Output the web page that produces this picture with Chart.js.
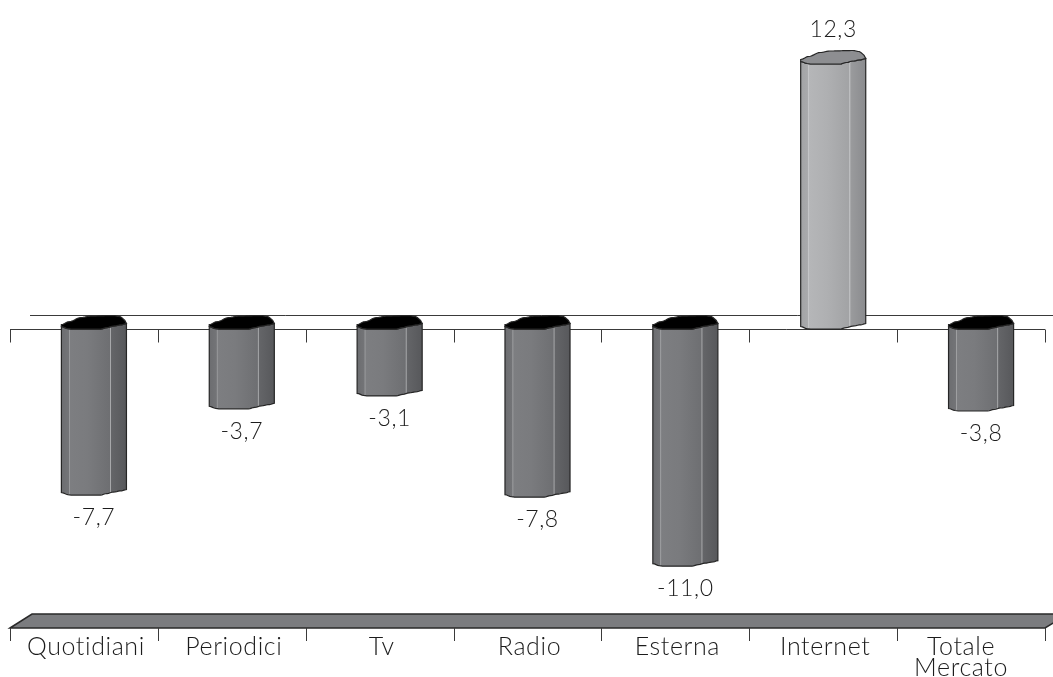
<!DOCTYPE html>
<html>
<head>
<meta charset="utf-8">
<script src="https://cdn.jsdelivr.net/npm/chart.js@4/dist/chart.umd.min.js"></script>
<style>
  html, body { margin: 0; padding: 0; background: #ffffff; }
  #wrap { width: 1053px; height: 677px; position: relative; }
</style>
</head>
<body>
<div id="wrap"><canvas id="chart"></canvas></div>
<script>
// Variazione % degli investimenti pubblicitari per mezzo
const categories = ['Quotidiani', 'Periodici', 'Tv', 'Radio', 'Esterna', 'Internet', ['Totale', 'Mercato']];
const variations = [-7.7, -3.7, -3.1, -7.8, -11.0, 12.3, -3.8];
const axisMin = -13.22;
const axisMax = 15.27;

const FONT = 'Lato, "Open Sans", "DejaVu Sans", sans-serif';
const DEPTH = 14;       // depth of the pseudo-3D floor / caps
const BAR_SHIFT = 10;   // horizontal shift of the columns inside each slot

// Profiles (u across the column width, height in px) of the wavy column outline
const frontEdge = [[0, 2.5], [0.1, 0.5], [0.15, 0], [0.6, 0], [0.7, 1.5], [0.8, 3], [0.92, 4.2], [1, 5.5]];
const backEdge  = [[0, 4.5], [0.12, 7.5], [0.3, 11.5], [0.45, 13], [0.8, 13.5], [0.9, 12.5], [0.96, 10], [1, 5.5]];

function profile(pts, u) {
  for (let i = 1; i < pts.length; i++) {
    if (u <= pts[i][0]) {
      const [u0, v0] = pts[i - 1];
      const [u1, v1] = pts[i];
      const t = (u - u0) / (u1 - u0 || 1);
      const s = (1 - Math.cos(Math.PI * t)) / 2;
      return v0 + (v1 - v0) * s;
    }
  }
  return pts[pts.length - 1][1];
}

function traceEdge(ctx, x0, w, yRef, pts, forward, first) {
  const N = 40;
  for (let k = 0; k <= N; k++) {
    const u = forward ? k / N : 1 - k / N;
    const x = x0 + u * w;
    const y = yRef - profile(pts, u);
    if (first && k === 0) ctx.moveTo(x, y); else ctx.lineTo(x, y);
  }
}

function bodyGradient(ctx, x0, w, positive) {
  const g = ctx.createLinearGradient(x0, 0, x0 + w, 0);
  const stops = positive
    ? [[0, '#a2a3a5'], [0.11, '#a9aaac'], [0.12, '#c4c5c7'], [0.135, '#b5b6b8'], [0.4, '#afb0b2'],
       [0.74, '#a2a3a5'], [0.755, '#c8c9cb'], [0.77, '#9a9b9d'], [1, '#8a8b8e']]
    : [[0, '#6c6d70'], [0.11, '#737477'], [0.12, '#a4a5a7'], [0.135, '#7d7e81'], [0.4, '#7a7b7e'],
       [0.74, '#6e6f72'], [0.755, '#a8a9ab'], [0.77, '#646568'], [1, '#57585b']];
  stops.forEach(([o, c]) => g.addColorStop(o, c));
  return g;
}

const decorPlugin = {
  id: 'decor',
  beforeDatasetsDraw(chart) {
    const { ctx, chartArea, scales } = chart;
    const x = scales.x, y = scales.y;
    const y0 = Math.round(y.getPixelForValue(0)) + 0.5;
    const n = categories.length;
    const slot = (chartArea.right - chartArea.left) / n;
    const W = chart.width;
    ctx.save();
    ctx.strokeStyle = '#3a3a3a';
    ctx.lineWidth = 1;
    // back edge of the zero plane
    ctx.beginPath();
    ctx.moveTo(chartArea.left + 20, y0 - DEPTH);
    ctx.lineTo(W, y0 - DEPTH);
    ctx.stroke();
    // front zero line with ticks
    ctx.beginPath();
    ctx.moveTo(chartArea.left, y0);
    ctx.lineTo(chartArea.right, y0);
    for (let i = 0; i <= n; i++) {
      const tx = Math.round(chartArea.left + i * slot) + 0.5;
      ctx.moveTo(tx, y0);
      ctx.lineTo(tx, y0 + 13);
    }
    ctx.stroke();

    // floor slab under the columns
    const top = chartArea.bottom, bot = chartArea.bottom + DEPTH;
    ctx.beginPath();
    ctx.moveTo(chartArea.left, bot);
    ctx.lineTo(chartArea.left + 22, top);
    ctx.lineTo(W + 5, top);
    ctx.lineTo(W + 5, top + 6);
    ctx.lineTo(chartArea.right, bot);
    ctx.closePath();
    ctx.fillStyle = '#7b7c7f';
    ctx.fill();
    ctx.strokeStyle = '#2a2a2a';
    ctx.lineWidth = 1.5;
    ctx.stroke();
    ctx.lineWidth = 1;
    ctx.strokeStyle = '#3a3a3a';
    ctx.beginPath();
    for (let i = 0; i <= n; i++) {
      const tx = Math.round(chartArea.left + i * slot) + 0.5;
      ctx.moveTo(tx, bot);
      ctx.lineTo(tx, bot + 13);
    }
    ctx.stroke();

    // category names
    ctx.fillStyle = '#1c1c1c';
    ctx.font = '300 25px ' + FONT;
    ctx.letterSpacing = '0.6px';
    ctx.textAlign = 'center';
    ctx.textBaseline = 'alphabetic';
    categories.forEach((lab, i) => {
      const cx = x.getPixelForValue(i) + (Array.isArray(lab) ? -10 : 2);
      const lines = Array.isArray(lab) ? lab : [lab];
      lines.forEach((ln, j) => ctx.fillText(ln, cx, bot + 27 + j * 21));
    });
    ctx.restore();
  },
  afterDatasetsDraw(chart) {
    const { ctx, scales } = chart;
    const y0 = scales.y.getPixelForValue(0);
    const meta = chart.getDatasetMeta(0);
    ctx.save();
    meta.data.forEach((bar, i) => {
      const v = variations[i];
      const positive = v >= 0;
      const w = bar.width;
      const x0 = bar.x - w / 2 + BAR_SHIFT;
      const yTop = positive ? bar.y : y0;
      const yBot = positive ? y0 : bar.y;

      // column body
      ctx.beginPath();
      traceEdge(ctx, x0, w, yTop, frontEdge, true, true);
      traceEdge(ctx, x0, w, yBot, frontEdge, false, false);
      ctx.closePath();
      ctx.fillStyle = bodyGradient(ctx, x0, w, positive);
      ctx.fill();
      ctx.strokeStyle = '#262626';
      ctx.lineWidth = 1.2;
      ctx.stroke();

      // cap
      ctx.beginPath();
      traceEdge(ctx, x0, w, yTop, backEdge, true, true);
      traceEdge(ctx, x0, w, yTop, frontEdge, false, false);
      ctx.closePath();
      ctx.fillStyle = positive ? '#8d8e91' : '#000000';
      ctx.fill();
      ctx.stroke();

      // value label
      ctx.fillStyle = '#1c1c1c';
      ctx.font = '300 23px ' + FONT;
      ctx.letterSpacing = '0.6px';
      ctx.textAlign = 'center';
      ctx.textBaseline = 'alphabetic';
      const txt = v.toFixed(1).replace('.', ',');
      const ly = positive ? yTop - 27 : yBot + 30;
      ctx.fillText(txt, x0 + w / 2, ly);
    });
    ctx.restore();
  }
};

new Chart(document.getElementById('chart'), {
  type: 'bar',
  data: {
    labels: categories,
    datasets: [{
      data: variations,
      backgroundColor: 'rgba(0,0,0,0)',
      borderWidth: 0,
      barPercentage: 0.44,
      categoryPercentage: 1
    }]
  },
  options: {
    responsive: true,
    maintainAspectRatio: false,
    animation: false,
    layout: { padding: { left: 10, right: 8, top: 0, bottom: 63 } },
    scales: {
      x: { display: false },
      y: { display: false, min: axisMin, max: axisMax }
    },
    plugins: { legend: { display: false }, tooltip: { enabled: false } }
  },
  plugins: [decorPlugin]
});
</script>
</body>
</html>
